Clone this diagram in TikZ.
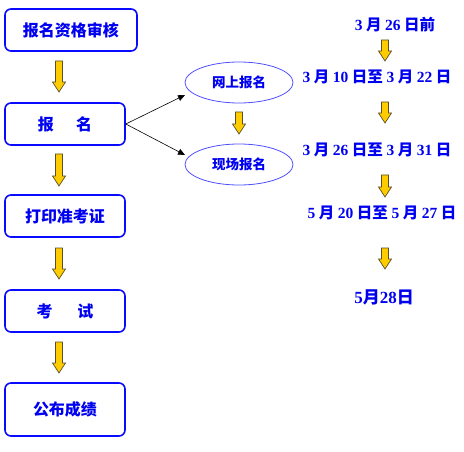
\documentclass[tikz,border=0pt]{standalone}
\usepackage{fontspec}
\setmainfont{Noto Sans CJK SC}
\newfontfamily\latn{Liberation Serif}
\usetikzlibrary{arrows.meta,shapes.geometric}
\definecolor{tblue}{RGB}{0,0,240}
\definecolor{bblue}{RGB}{10,10,255}
\definecolor{eblue}{RGB}{80,80,255}
\definecolor{ayel}{RGB}{255,204,0}
\definecolor{aline}{RGB}{90,80,40}
\newcommand{\dg}[1]{{\latn\bfseries #1}}
\newcommand{\yarr}[3]{%
  \draw[yarrow] (#1-3.5,#2) -- (#1+3.5,#2) -- (#1+3.5,#3-10) -- (#1+6.5,#3-10)
    -- (#1,#3) -- (#1-6.5,#3-10) -- (#1-3.5,#3-10) -- cycle;}
\tikzset{
  stepbox/.style={draw=bblue, line width=1.6pt, rounded corners=6pt, fill=white,
    text=tblue, font=\bfseries\fontsize{16}{16}\selectfont, inner sep=0pt},
  oval/.style={draw=eblue, line width=0.8pt, ellipse, minimum width=108pt,
    minimum height=41pt, text=tblue, font=\bfseries\fontsize{13.5}{14}\selectfont, inner sep=0pt},
  datetxt/.style={text=tblue, font=\bfseries\fontsize{15.5}{16}\selectfont, inner sep=0pt},
  yarrow/.style={fill=ayel, draw=aline, line width=0.7pt, line join=miter},
  conn/.style={-{Triangle[length=7pt,width=6pt]}, line width=0.6pt, black}
}
\begin{document}
\begin{tikzpicture}[x=1pt,y=-1pt]
\useasboundingbox[fill=white] (0,0) rectangle (464,452);
% left column
\node[stepbox, minimum width=132pt, minimum height=42pt] (b1) at (71,30) {报名资格审核};
\node[stepbox, minimum width=120pt, minimum height=42pt] (b2) at (65,124) {报\hspace{1.4em}名};
\node[stepbox, minimum width=120pt, minimum height=42pt] (b3) at (65,216) {打印准考证};
\node[stepbox, minimum width=120pt, minimum height=42pt] (b4) at (65,311) {考\hspace{1.55em}试};
\node[stepbox, minimum width=120pt, minimum height=53pt] (b5) at (65,409.5) {公布成绩};
\yarr{59}{61}{92}
\yarr{59}{154}{186}
\yarr{59}{248}{279}
\yarr{59}{342}{373}
% ovals
\node[oval] (e1) at (239,82.5) {网上报名};
\node[oval] (e2) at (239,164.5) {现场报名};
\coordinate (t1) at (185,95);
\coordinate (t2) at (185,155);
\draw[conn] (b2.east) -- (t1);
\draw[conn] (b2.east) -- (t2);
\yarr{239}{112}{134}
% dates
\node[datetxt] (d1) at (395,25) {\dg{3} 月 \dg{26} 日前};
\node[datetxt] (d2) at (377,77) {\dg{3} 月 \dg{10} 日至 \dg{3} 月 \dg{22} 日};
\node[datetxt] (d3) at (377,150) {\dg{3} 月 \dg{26} 日至 \dg{3} 月 \dg{31} 日};
\node[datetxt] (d4) at (382,213) {\dg{5} 月 \dg{20} 日至 \dg{5} 月 \dg{27} 日};
\node[datetxt, font=\bfseries\fontsize{17}{17}\selectfont] (d5) at (384,297) {\dg{5}月\dg{28}日};
\yarr{385}{40}{61}
\yarr{385}{102}{123}
\yarr{385}{175}{197}
\yarr{385}{248}{269}
\end{tikzpicture}
\end{document}
